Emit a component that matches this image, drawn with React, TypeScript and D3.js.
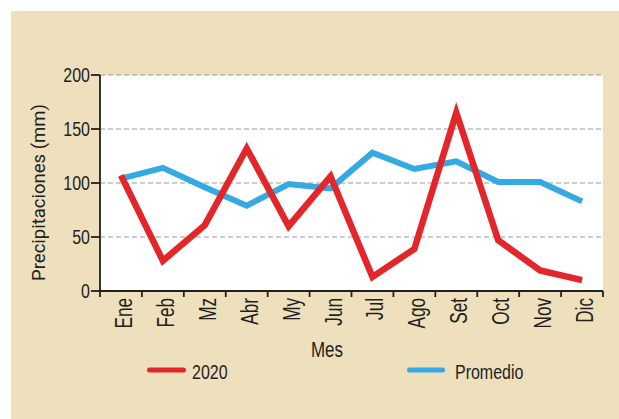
import { useEffect, useRef } from "react";
import * as d3 from "d3";

const months = ["Ene", "Feb", "Mz", "Abr", "My", "Jun", "Jul", "Ago", "Set", "Oct", "Nov", "Dic"];
const values2020 = [107, 28, 61, 132, 60, 106, 13, 39, 165, 47, 19, 10];
const valuesPromedio = [104, 114, 96, 79, 99, 95, 128, 113, 120, 101, 101, 83];
const yTicks = [0, 50, 100, 150, 200];

const W = 619;
const H = 419;
const INK = "#231f20";
const RED = "#e3262a";
const BLUE = "#33aae1";
const SANS = "'Liberation Sans', Arial, sans-serif";
const SQUEEZE = 0.8; // condensed look, no narrow font installed

export default function App() {
  const svgRef = useRef<SVGSVGElement | null>(null);

  useEffect(() => {
    if (!svgRef.current) return;
    document.body.style.margin = "0";

    const svg = d3.select(svgRef.current);
    svg.selectAll("*").remove();

    const left = 100;
    const right = 603;
    const top = 75;
    const bottom = 291;

    // background panel
    svg.append("rect").attr("width", W).attr("height", H).attr("fill", "#fff");
    svg.append("rect").attr("x", 11).attr("y", 11).attr("width", W - 11).attr("height", H - 11).attr("fill", "#eee0bc");

    const x = d3.scaleBand<string>().domain(months).range([left, right]).padding(0);
    const y = d3.scaleLinear().domain([0, 200]).range([bottom, top]);
    const cx = (m: string) => x(m)! + x.bandwidth() / 2;

    // plot area
    svg.append("rect")
      .attr("x", left).attr("y", top)
      .attr("width", right - left).attr("height", bottom - top)
      .attr("fill", "#fff");

    // grid
    svg.append("g")
      .selectAll("line")
      .data(yTicks.filter((t) => t > 0))
      .join("line")
      .attr("x1", left).attr("x2", right)
      .attr("y1", (d) => y(d)).attr("y2", (d) => y(d))
      .attr("stroke", "#9b9b9b")
      .attr("stroke-width", 1)
      .attr("stroke-dasharray", "5,3");

    // lines
    const line = d3.line<number>()
      .x((_, i) => cx(months[i]))
      .y((d) => y(d));

    svg.append("path")
      .datum(valuesPromedio)
      .attr("d", line)
      .attr("fill", "none")
      .attr("stroke", BLUE)
      .attr("stroke-width", 6)
      .attr("stroke-linejoin", "miter");

    svg.append("path")
      .datum(values2020)
      .attr("d", line)
      .attr("fill", "none")
      .attr("stroke", RED)
      .attr("stroke-width", 6.5)
      .attr("stroke-linejoin", "miter");

    // axes
    const axes = svg.append("g").attr("stroke", INK).attr("stroke-width", 1.8);
    axes.append("line").attr("x1", left).attr("x2", left).attr("y1", top).attr("y2", bottom + 1);
    axes.append("line").attr("x1", left - 1).attr("x2", right).attr("y1", bottom).attr("y2", bottom);
    axes.selectAll("line.yt")
      .data(yTicks)
      .join("line")
      .attr("class", "yt")
      .attr("x1", left - 9).attr("x2", left)
      .attr("y1", (d) => y(d)).attr("y2", (d) => y(d));
    const edges = months.map((m) => x(m)!).concat([right]);
    axes.selectAll("line.xt")
      .data(edges)
      .join("line")
      .attr("class", "xt")
      .attr("x1", (d) => d).attr("x2", (d) => d)
      .attr("y1", bottom).attr("y2", bottom + 6);

    // y tick labels
    svg.append("g")
      .selectAll("text")
      .data(yTicks)
      .join("text")
      .attr("transform", (d) => `translate(${left - 10},${y(d)}) scale(0.78,1)`)
      .attr("dy", "0.36em")
      .attr("text-anchor", "end")
      .attr("font-family", SANS)
      .attr("font-size", 20.5)
      .attr("fill", INK)
      .text((d) => d);

    // x tick labels
    svg.append("g")
      .selectAll("text")
      .data(months)
      .join("text")
      .attr("transform", (d) => `translate(${cx(d) + 11},298) rotate(-90) scale(0.73,1)`)
      .attr("text-anchor", "end")
      .attr("font-family", SANS)
      .attr("font-size", 23.5)
      .attr("fill", INK)
      .text((d) => d);

    // axis titles
    svg.append("text")
      .attr("transform", `translate(327,357) scale(0.77,1)`)
      .attr("text-anchor", "middle")
      .attr("font-family", SANS)
      .attr("font-size", 22)
      .attr("fill", INK)
      .text("Mes");

    svg.append("text")
      .attr("transform", "translate(45,192.5) rotate(-90)")
      .attr("text-anchor", "middle")
      .attr("font-family", "Roboto, sans-serif")
      .attr("font-size", 18.5)
      .attr("fill", INK)
      .text("Precipitaciones (mm)");

    // legend
    const legend = [
      { label: "2020", color: RED, x0: 147, x1: 186, tx: 192 },
      { label: "Promedio", color: BLUE, x0: 407, x1: 445, tx: 455 },
    ];
    const lg = svg.append("g").selectAll("g").data(legend).join("g");
    lg.append("line")
      .attr("x1", (d) => d.x0 + 2.5).attr("x2", (d) => d.x1 - 2.5)
      .attr("y1", 370).attr("y2", 370)
      .attr("stroke", (d) => d.color)
      .attr("stroke-width", 5)
      .attr("stroke-linecap", "round");
    lg.append("text")
      .attr("transform", (d) => `translate(${d.tx},379) scale(${SQUEEZE - 0.02},1)`)
      .attr("font-family", SANS)
      .attr("font-size", 20.5)
      .attr("fill", INK)
      .text((d) => d.label);
  }, []);

  return <svg ref={svgRef} width={W} height={H} style={{ display: "block" }} />;
}
